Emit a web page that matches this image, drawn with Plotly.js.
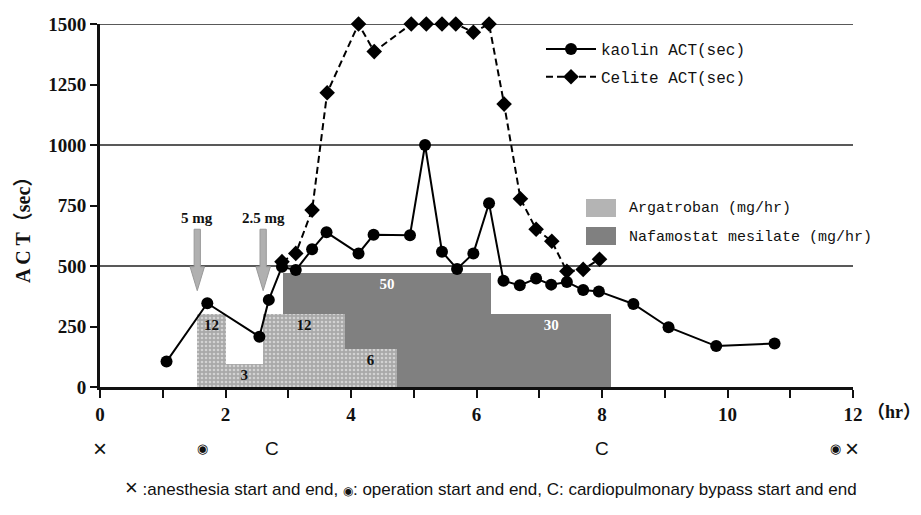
<!DOCTYPE html>
<html><head><meta charset="utf-8">
<script src="https://cdn.plot.ly/plotly-3.0.1.min.js"></script>
<style>html,body{margin:0;padding:0;background:#fff}</style>
</head><body><div id="chart" style="width:921px;height:515px"></div>
<script>
// ACT measurements (hours since start, seconds)
const kaolinT = [1.06, 1.71, 2.54, 2.69, 2.90, 3.12, 3.38, 3.61, 4.12, 4.36, 4.94, 5.18, 5.45, 5.69, 5.95, 6.20, 6.43, 6.69, 6.95, 7.19, 7.44, 7.70, 7.95, 8.50, 9.06, 9.82, 10.75];
const kaolinACT = [105, 346, 208, 360, 497, 483, 569, 639, 552, 629, 627, 1000, 559, 488, 552, 759, 439, 420, 448, 423, 434, 401, 395, 343, 247, 169, 180];
const celiteT = [2.90, 3.12, 3.38, 3.62, 4.12, 4.37, 4.96, 5.20, 5.45, 5.67, 5.95, 6.20, 6.44, 6.70, 6.95, 7.20, 7.44, 7.70, 7.96];
const celiteACT = [518, 552, 731, 1216, 1500, 1386, 1500, 1500, 1500, 1500, 1466, 1500, 1169, 778, 652, 602, 478, 486, 528];

// Infusions (hours), rate labels (mg/hr) and drawn heights on ACT scale
const argStart = [1.55, 2.0, 2.6, 3.9];
const argEnd = [2.0, 2.6, 3.9, 4.73];
const argRate = ['12', '3', '12', '6'];
const argHeight = [300, 95, 300, 155];
const nafStart = [2.92, 6.23];
const nafEnd = [6.23, 8.15];
const nafRate = ['50', '30'];
const nafHeight = [470, 300];

// Bolus doses
const bolusT = [1.55, 2.6];
const bolusLabel = ['5 mg', '2.5 mg'];

// Events along the time axis
const eventT = [0, 1.63, 2.74, 8.0, 11.72, 11.98];
const eventSym = ['×', '◉', 'C', 'C', '◉', '×'];

const xTicks = [0,1,2,3,4,5,6,7,8,9,10,11,12];
const xTickText = xTicks.map(v => v % 2 === 0 ? String(v) : '');
const yTicks = [0, 250, 500, 750, 1000, 1250, 1500];
const gridVals = [500, 1000, 1500];

const serif = 'Liberation Serif, Times New Roman, Noto Sans CJK JP, serif';
const mono = 'Liberation Mono, DejaVu Sans Mono, monospace';
const sans = 'Liberation Sans Narrow, Liberation Sans, sans-serif';
const symSize = {'×': 24, '◉': 13, 'C': 19};

const mid = (s, e) => s.map((v, i) => (v + e[i]) / 2);
const wid = (s, e) => s.map((v, i) => e[i] - v);

const traces = [
  {type: 'bar', x: mid(nafStart, nafEnd), width: wid(nafStart, nafEnd), y: nafHeight,
   text: nafRate, texttemplate: '<b>%{text}</b>', textposition: 'inside', insidetextanchor: 'end',
   constraintext: 'none', textfont: {family: serif, size: 15, color: '#fff'},
   marker: {color: '#808080', line: {width: 0}}, showlegend: false, hoverinfo: 'skip'},
  {type: 'bar', x: mid(argStart, argEnd), width: wid(argStart, argEnd), y: argHeight,
   text: argRate, texttemplate: '<b>%{text}</b>', textposition: 'inside', insidetextanchor: 'end',
   constraintext: 'none', textfont: {family: serif, size: 15, color: '#111'},
   marker: {color: '#b4b4b4', line: {width: 0},
            pattern: {shape: '.', fgcolor: '#d2d2d2', bgcolor: '#a9a9a9', size: 4, solidity: 0.35}},
   showlegend: false, hoverinfo: 'skip'},
  {type: 'scatter', mode: 'lines+markers', name: 'kaolin ACT(sec)', legendgroup: 'k', x: kaolinT, y: kaolinACT,
   line: {color: '#000', width: 2}, marker: {symbol: 'circle', size: 12, color: '#000'},
   cliponaxis: false, hoverinfo: 'skip'},
  {type: 'scatter', mode: 'lines+markers', name: 'Celite ACT(sec)', legendgroup: 'c', x: celiteT, y: celiteACT,
   line: {color: '#000', width: 2, dash: '7px,4px'}, marker: {symbol: 'diamond', size: 12, color: '#000'},
   cliponaxis: false, hoverinfo: 'skip'}
];

const shapes = [];
gridVals.forEach(v => shapes.push({type: 'line', xref: 'x', yref: 'y', x0: 0, x1: 12, y0: v, y1: v,
  line: {color: '#222', width: 1.5}, layer: 'below'}));
bolusT.forEach(t => {
  const p = `M${t-0.05},652 L${t+0.05},652 L${t+0.05},497 L${t+0.115},497 L${t},398 L${t-0.115},497 L${t-0.05},497 Z`;
  shapes.push({type: 'path', xref: 'x', yref: 'y', path: p, fillcolor: '#b0b0b0', line: {color: '#9a9a9a', width: 1}});
});
// bar legend swatches
shapes.push({type: 'rect', xref: 'paper', yref: 'paper', x0: (586-100)/753, x1: (616-100)/753,
  y0: (387-217)/363, y1: (387-199)/363, fillcolor: '#b4b4b4', line: {width: 0}});
shapes.push({type: 'rect', xref: 'paper', yref: 'paper', x0: (586-100)/753, x1: (616-100)/753,
  y0: (387-245)/363, y1: (387-227)/363, fillcolor: '#808080', line: {width: 0}});

const annotations = [];
bolusT.forEach((t, i) => annotations.push({xref: 'x', yref: 'y', x: t, y: 700, xanchor: 'center', yanchor: 'middle',
  text: '<b>' + bolusLabel[i] + '</b>', showarrow: false, font: {family: serif, size: 15, color: '#111'}}));
eventT.forEach((t, i) => annotations.push({xref: 'x', yref: 'paper', x: t, y: -(448-387)/363, xanchor: 'center', yanchor: 'middle',
  text: eventSym[i], showarrow: false, font: {family: sans, size: symSize[eventSym[i]], color: '#111'}}));
annotations.push({xref: 'paper', yref: 'paper', x: (627-100)/753, y: (387-209)/363, xanchor: 'left', yanchor: 'middle',
  text: 'Argatroban (mg/hr)', showarrow: false, font: {family: mono, size: 15, color: '#111'}});
annotations.push({xref: 'paper', yref: 'paper', x: (627-100)/753, y: (387-237)/363, xanchor: 'left', yanchor: 'middle',
  text: 'Nafamostat mesilate (mg/hr)', showarrow: false, font: {family: mono, size: 15, color: '#111'}});
annotations.push({xref: 'paper', yref: 'paper', x: (865-100)/753, y: -(412-387)/363, xanchor: 'left', yanchor: 'middle',
  text: '<b>（hr）</b>', showarrow: false, font: {family: serif, size: 18, color: '#111'}});
annotations.push({xref: 'paper', yref: 'paper', x: (491-100)/753, y: -(487-387)/363, xanchor: 'center', yanchor: 'middle',
  text: '<span style="font-size:22px">×</span> :anesthesia start and end, <span style="font-size:12px">◉</span>: operation start and end, C: cardiopulmonary bypass start and end',
  showarrow: false, font: {family: sans, size: 17, color: '#111'}});
annotations.push({xref: 'paper', yref: 'paper', x: -(100-23)/753, y: (387-225)/363, xanchor: 'center', yanchor: 'middle', textangle: -90,
  text: '<b>A C T（sec）</b>', showarrow: false, font: {family: serif, size: 20, color: '#111'}});

const layout = {
  width: 921, height: 515,
  margin: {l: 100, r: 68, t: 24, b: 128},
  paper_bgcolor: '#fff', plot_bgcolor: '#fff',
  barmode: 'overlay', bargap: 0,
  xaxis: {range: [0, 12], tickvals: xTicks, ticktext: xTickText, showgrid: false, zeroline: false,
    showline: true, linecolor: '#111', linewidth: 3, ticks: 'outside', ticklen: 8, tickwidth: 2, tickcolor: '#111',
    tickfont: {family: serif, size: 19, color: '#111', weight: 'bold'}},
  yaxis: {range: [0, 1500], tickvals: yTicks, showgrid: false, zeroline: false,
    showline: true, linecolor: '#111', linewidth: 3, ticks: 'outside', ticklen: 7, tickwidth: 2, tickcolor: '#111',
    tickfont: {family: serif, size: 19, color: '#111', weight: 'bold'}},
  showlegend: true,
  legend: {x: (541-100)/753, y: (387-32)/363, xanchor: 'left', yanchor: 'top', bgcolor: 'rgba(0,0,0,0)',
    font: {family: mono, size: 16, color: '#111'}, traceorder: 'grouped', tracegroupgap: 4, itemwidth: 50},
  shapes: shapes, annotations: annotations
};

Plotly.newPlot('chart', traces, layout, {staticPlot: true, displayModeBar: false});
</script></body></html>
